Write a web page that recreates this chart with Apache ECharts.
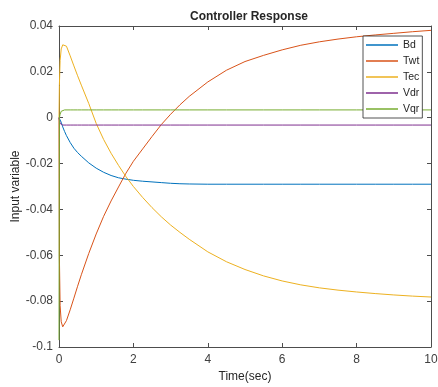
<!DOCTYPE html>
<html>
<head>
<meta charset="utf-8">
<script src="https://cdn.jsdelivr.net/npm/echarts@6/dist/echarts.min.js"></script>
<style>
  html, body { margin: 0; padding: 0; background: #fff; }
  #chart { width: 438px; height: 387px; }
</style>
</head>
<body>
<div id="chart"></div>
<script>
// sample times (sec)
const timeSec = [0, 0.01, 0.03, 0.06, 0.1, 0.15, 0.2, 0.3, 0.4, 0.5, 0.6, 0.8, 1.0, 1.2, 1.4, 1.6, 1.8, 2.0,
  2.25, 2.5, 2.75, 3.0, 3.25, 3.5, 4.0, 4.5, 5.0, 5.5, 6.0, 6.5, 7.0, 7.5, 8.0, 8.5, 9.0, 9.5, 10];

const bdVals = [0, -0.0005, -0.001, -0.002, -0.004, -0.006, -0.0078, -0.0108, -0.0133, -0.0152, -0.0168, -0.0197,
  -0.022, -0.0238, -0.0252, -0.0262, -0.0268, -0.0273, -0.0277, -0.028, -0.0283, -0.0286, -0.0288, -0.0289,
  -0.029, -0.029, -0.029, -0.029, -0.029, -0.029, -0.029, -0.029, -0.029, -0.029, -0.029, -0.029, -0.029];

const twtVals = [0, -0.06, -0.082, -0.089, -0.0912, -0.0905, -0.0885, -0.0838, -0.0787, -0.0735, -0.0685, -0.0592,
  -0.0507, -0.043, -0.0363, -0.0302, -0.0242, -0.019, -0.0136, -0.0082, -0.003, 0.0015, 0.0056, 0.0093,
  0.0156, 0.0207, 0.0245, 0.0272, 0.0296, 0.0316, 0.0331, 0.0343, 0.0353, 0.0361, 0.0368, 0.0375, 0.0381];

const tecVals = [0, 0.014, 0.025, 0.030, 0.0318, 0.032, 0.0312, 0.027, 0.0226, 0.0183, 0.0142, 0.0062,
  -0.0025, -0.0095, -0.0155, -0.0208, -0.0257, -0.030, -0.0348, -0.0392, -0.0432, -0.0468, -0.050, -0.053,
  -0.0585, -0.0628, -0.0662, -0.069, -0.0712, -0.0729, -0.0742, -0.0752, -0.076, -0.0767, -0.0773, -0.0778, -0.0782];

const vdrVals = [0, -0.001, -0.0025, -0.0032, -0.0032, -0.0032, -0.0032, -0.0032, -0.0032, -0.0032, -0.0032, -0.0032,
  -0.0032, -0.0032, -0.0032, -0.0032, -0.0032, -0.0032, -0.0032, -0.0032, -0.0032, -0.0032, -0.0032, -0.0032,
  -0.0032, -0.0032, -0.0032, -0.0032, -0.0032, -0.0032, -0.0032, -0.0032, -0.0032, -0.0032, -0.0032, -0.0032, -0.0032];

const vqrVals = [-0.097, 0, 0.0015, 0.0028, 0.0033, 0.0034, 0.0034, 0.0034, 0.0034, 0.0034, 0.0034, 0.0034,
  0.0034, 0.0034, 0.0034, 0.0034, 0.0034, 0.0034, 0.0034, 0.0034, 0.0034, 0.0034, 0.0034, 0.0034,
  0.0034, 0.0034, 0.0034, 0.0034, 0.0034, 0.0034, 0.0034, 0.0034, 0.0034, 0.0034, 0.0034, 0.0034, 0.0034];

const seriesNames = ['Bd', 'Twt', 'Tec', 'Vdr', 'Vqr'];
const seriesColors = ['#0072BD', '#D95319', '#EDB120', '#7E2F8E', '#77AC30'];
const seriesVals = [bdVals, twtVals, tecVals, vdrVals, vqrVals];

const fontName = 'Liberation Sans';
const axisColor = '#4d4d4d';
const labelColor = '#404040';

const chart = echarts.init(document.getElementById('chart'), null, { renderer: 'canvas' });

const series = seriesNames.map((name, i) => ({
  name: name,
  type: 'line',
  symbol: 'none',
  animation: false,
  data: timeSec.map((t, k) => [t, seriesVals[i][k]]),
  lineStyle: { width: 1, color: seriesColors[i] },
  itemStyle: { color: seriesColors[i] }
}));

// bottom/left axes carry labels, top/right just close the box
const baseX = {
  type: 'value', min: 0, max: 10, interval: 2,
  axisLine: { show: true, onZero: false, lineStyle: { color: axisColor, width: 1 } },
  axisTick: { show: true, inside: true, length: 4, lineStyle: { color: axisColor } },
  splitLine: { show: false }
};
const baseY = {
  type: 'value', min: -0.1, max: 0.04, interval: 0.02,
  axisLine: { show: true, onZero: false, lineStyle: { color: axisColor, width: 1 } },
  axisTick: { show: true, inside: true, length: 4, lineStyle: { color: axisColor } },
  splitLine: { show: false }
};

chart.setOption({
  animation: false,
  backgroundColor: '#fff',
  title: {
    text: 'Controller Response',
    left: 185,
    top: 6,
    textStyle: { fontFamily: fontName, fontSize: 12, fontWeight: 'bold', color: '#262626' }
  },
  grid: { left: 59, right: 7, top: 26, bottom: 40, containLabel: false, outerBoundsMode: 'none' },
  legend: {
    data: seriesNames,
    orient: 'vertical',
    left: 363,
    top: 36,
    icon: 'rect',
    itemWidth: 32,
    itemHeight: 1.5,
    itemGap: 2,
    padding: [2, 3, 2, 3],
    borderColor: '#262626',
    borderWidth: 0.8,
    backgroundColor: '#fff',
    textStyle: { fontFamily: fontName, fontSize: 10.5, lineHeight: 14, color: '#262626' }
  },
  xAxis: [
    Object.assign({}, baseX, {
      position: 'bottom',
      name: 'Time(sec)',
      nameLocation: 'middle',
      nameGap: 24,
      nameMoveOverlap: false,
      nameTextStyle: { fontFamily: fontName, fontSize: 12, color: '#262626' },
      axisLabel: { margin: 7, fontFamily: fontName, fontSize: 12, color: labelColor }
    }),
    Object.assign({}, baseX, { position: 'top', axisLabel: { show: false } })
  ],
  yAxis: [
    Object.assign({}, baseY, {
      position: 'left',
      name: 'Input variable',
      nameLocation: 'middle',
      nameGap: 37,
      nameMoveOverlap: false,
      nameTextStyle: { fontFamily: fontName, fontSize: 12, color: '#262626' },
      axisLabel: { margin: 6, fontFamily: fontName, fontSize: 12, color: labelColor }
    }),
    Object.assign({}, baseY, { position: 'right', axisLabel: { show: false } })
  ],
  series: series
});
</script>
</body>
</html>
